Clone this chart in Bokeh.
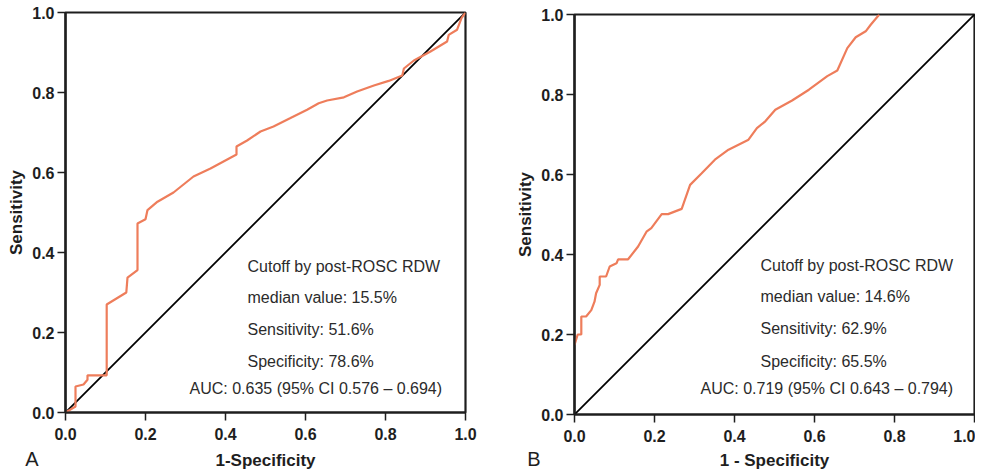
from bokeh.plotting import figure
from bokeh.layouts import row, column
from bokeh.models import Range1d, FixedTicker, PrintfTickFormatter, Label
from bokeh.embed import file_html
from bokeh.resources import INLINE

# ---------------- data ----------------
ticks = [0.0, 0.2, 0.4, 0.6, 0.8, 1.0]
ref_x = [0.0, 1.0]
ref_y = [0.0, 1.0]

# Panel A ROC curve (1-specificity, sensitivity)
a_fpr = [0.0, 0.025, 0.025, 0.045, 0.055, 0.055, 0.103, 0.103, 0.152, 0.155,
         0.18, 0.18, 0.2, 0.205, 0.23, 0.27, 0.32, 0.3625, 0.4275, 0.4275,
         0.454, 0.4875, 0.52, 0.5625, 0.604, 0.633, 0.654, 0.696, 0.729, 0.771,
         0.808, 0.842, 0.846, 0.871, 0.9125, 0.954, 0.958, 0.979, 0.99, 1.0]
a_tpr = [0.0, 0.015, 0.065, 0.07, 0.082, 0.093, 0.093, 0.27, 0.30, 0.337,
         0.356, 0.4725, 0.483, 0.506, 0.527, 0.55, 0.59, 0.61, 0.645, 0.665,
         0.68, 0.7025, 0.715, 0.736, 0.757, 0.773, 0.78, 0.788, 0.8025, 0.8175,
         0.829, 0.8425, 0.86, 0.88, 0.9025, 0.9275, 0.944, 0.957, 0.986, 1.0]

# Panel B ROC curve
b_fpr = [0.0, 0.008, 0.017, 0.017, 0.029, 0.042, 0.05, 0.054, 0.063, 0.063,
         0.079, 0.088, 0.105, 0.109, 0.134, 0.159, 0.18, 0.192, 0.218, 0.234,
         0.268, 0.289, 0.318, 0.351, 0.385, 0.435, 0.456, 0.477, 0.502, 0.544,
         0.586, 0.632, 0.657, 0.682, 0.703, 0.728, 0.741, 0.762]
b_tpr = [0.174, 0.2, 0.2, 0.245, 0.245, 0.261, 0.282, 0.303, 0.324, 0.345,
         0.345, 0.37, 0.378, 0.388, 0.388, 0.42, 0.457, 0.466, 0.501, 0.501,
         0.514, 0.574, 0.603, 0.637, 0.662, 0.687, 0.716, 0.733, 0.762, 0.785,
         0.812, 0.846, 0.86, 0.916, 0.943, 0.958, 0.975, 1.0]

a_notes = ["Cutoff by post-ROSC RDW", "median value: 15.5%",
           "Sensitivity: 51.6%", "Specificity: 78.6%"]
a_auc = "AUC: 0.635 (95% CI 0.576 \u2013 0.694)"
b_notes = ["Cutoff by post-ROSC RDW", "median value: 14.6%",
           "Sensitivity: 62.9%", "Specificity: 65.5%"]
b_auc = "AUC: 0.719 (95% CI 0.643 \u2013 0.794)"

# ---------------- styling ----------------
ORANGE = "#EE7D5B"
DARK = "#1e1e1e"
TXT = "#2b2b2b"
FONT = "Liberation Sans"
STRIP_H = 24
MAIN_H = 446


def make_panel(fpr, tpr, notes, auc, borders, note_x, auc_x, note_y, auc_y):
    left, right, top = borders
    p = figure(frame_width=400, frame_height=400,
               min_border_left=left, min_border_right=right,
               min_border_top=top, min_border_bottom=MAIN_H - 400 - top,
               x_range=Range1d(0, 1), y_range=Range1d(0, 1),
               output_backend="svg", toolbar_location=None,
               background_fill_color="white", border_fill_color="white")
    p.grid.visible = False
    p.outline_line_color = DARK
    p.outline_line_width = 2.2
    for ax in (p.xaxis[0], p.yaxis[0]):
        ax.ticker = FixedTicker(ticks=ticks)
        ax.formatter = PrintfTickFormatter(format="%.1f")
        ax.axis_line_color = DARK
        ax.axis_line_width = 2.2
        ax.major_tick_line_color = DARK
        ax.major_tick_line_width = 1.5
        ax.major_tick_out = 8
        ax.major_tick_in = 0
        ax.minor_tick_line_color = None
        ax.major_label_text_font = FONT
        ax.major_label_text_font_style = "bold"
        ax.major_label_text_font_size = "16px"
        ax.major_label_text_color = DARK
        ax.axis_label_text_font = FONT
        ax.axis_label_text_font_style = "bold"
        ax.axis_label_text_font_size = "17px"
        ax.axis_label_text_color = DARK
    p.yaxis.axis_label = "Sensitivity"
    p.xaxis.major_label_standoff = 7
    p.yaxis.major_label_standoff = 3
    p.yaxis.axis_label_standoff = 3

    p.line(ref_x, ref_y, line_color="black", line_width=1.8)
    p.line(fpr, tpr, line_color=ORANGE, line_width=2.2)

    for i, t in enumerate(notes):
        p.add_layout(Label(x=note_x, y=note_y[i], text=t, text_font=FONT,
                           text_font_size="16px", text_color=TXT,
                           text_baseline="alphabetic", text_align="left"))
    p.add_layout(Label(x=auc_x, y=auc_y, text=auc, text_font=FONT,
                       text_font_size="16px", text_color=TXT,
                       text_baseline="alphabetic", text_align="left"))
    return p


def make_strip(left, right, tag, tag_gap, xlabel):
    # thin strip under a panel: panel tag (as a one-factor axis label at the
    # left) and the x-axis title centred under the frame, on one line
    s = figure(width=left + 400 + right, height=STRIP_H,
               min_border_left=left, min_border_right=right,
               min_border_top=0, min_border_bottom=0,
               x_range=Range1d(0, 1), y_range=[tag],
               x_axis_type=None,
               output_backend="svg", toolbar_location=None,
               background_fill_color="white", border_fill_color="white")
    s.grid.visible = False
    s.outline_line_color = None
    ax = s.yaxis[0]
    ax.axis_line_color = None
    ax.major_tick_line_color = None
    ax.minor_tick_line_color = None
    ax.major_tick_out = 0
    ax.major_label_standoff = tag_gap
    ax.major_label_text_font = FONT
    ax.major_label_text_font_size = "20px"
    ax.major_label_text_color = DARK
    s.add_layout(Label(x=0.5, y=0.42, text=xlabel, text_font=FONT,
                       text_font_size="17px", text_font_style="bold",
                       text_color=DARK,
                       text_baseline="middle", text_align="center"))
    return s


A_LEFT, A_RIGHT = 65, 31
B_LEFT, B_RIGHT = 78, 1

pa = make_panel(a_fpr, a_tpr, a_notes, a_auc, (A_LEFT, A_RIGHT, 12), 0.455, 0.31,
                [0.365, 0.2875, 0.2075, 0.1275], 0.06)
pb = make_panel(b_fpr, b_tpr, b_notes, b_auc, (B_LEFT, B_RIGHT, 14), 0.465, 0.315,
                [0.373, 0.296, 0.215, 0.133], 0.065)

sa = make_strip(A_LEFT, A_RIGHT, "A", 27, "1-Specificity")
sb = make_strip(B_LEFT, B_RIGHT, "B", 34, "1 - Specificity")

layout = row(column(pa, sa), column(pb, sb))
open("out.html", "w").write(file_html(layout, INLINE))
